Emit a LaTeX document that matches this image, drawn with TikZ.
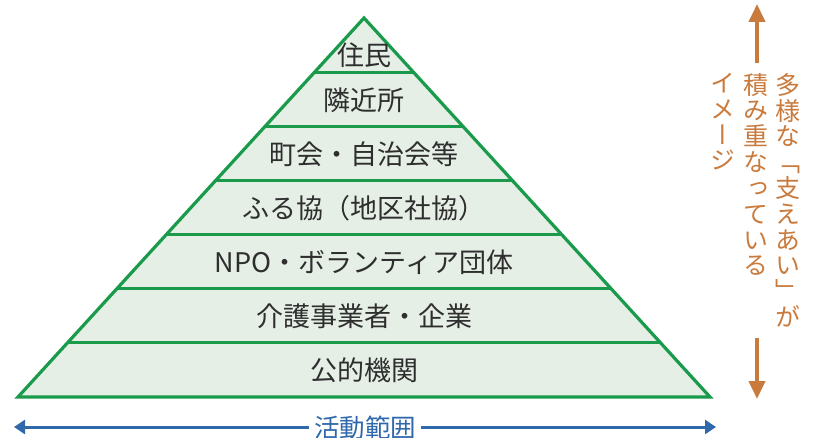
\documentclass[tikz,border=0pt]{standalone}
\usepackage{fontspec}
\newfontfamily\jp{Noto Sans CJK JP}
\newfontfamily\jpv[RawFeature=+vert]{Noto Sans CJK JP}
\usetikzlibrary{arrows.meta}
\definecolor{pgreen}{HTML}{1A9A4B}
\definecolor{pfill}{HTML}{E5EFE6}
\definecolor{porange}{HTML}{C97B3D}
\definecolor{pblue}{HTML}{2F69AC}
\definecolor{ptext}{HTML}{2E2E2E}
\begin{document}
\begin{tikzpicture}[x=1pt,y=-1pt,
  layer/.style={text=ptext,font=\jp\fontsize{27}{30}\selectfont,inner sep=0pt},
  vtext/.style={text=porange,font=\jpv\fontsize{25}{25.8}\selectfont,align=center,inner sep=0pt,anchor=north},
  oarrow/.style={draw=porange,line width=4pt,-{Triangle[width=16pt,length=18pt]}},
  barrow/.style={draw=pblue,line width=3pt,-{Triangle[width=14pt,length=11pt]}},
  sepline/.style={draw=pgreen,line width=3.2pt}]
\useasboundingbox (0,0) rectangle (821,438);
% pyramid
\coordinate (apex) at (364,18);
\coordinate (bl) at (18,397);
\coordinate (br) at (710,397);
\fill[pfill] (apex) -- (br) -- (bl) -- cycle;
\foreach \k in {1,...,6}{
  \pgfmathsetmacro{\yy}{18+54.14*\k}
  \pgfmathsetmacro{\hw}{0.91293*(\yy-18)}
  \draw[sepline] ({364-\hw},\yy) -- ({364+\hw},\yy);
}
\draw[pgreen,line width=3.2pt,line join=miter] (apex) -- (br) -- (bl) -- cycle;
% layer labels
\node[layer] (l1) at (364,55) {住民};
\node[layer] (l2) at (364,100) {隣近所};
\node[layer] (l3) at (364,154) {町会・自治会等};
\node[layer] (l4) at (364,208) {ふる協（地区社協）};
\node[layer] (l5) at (364,262) {NPO・ボランティア団体};
\node[layer] (l6) at (364,316) {介護事業者・企業};
\node[layer] (l7) at (364,370) {公的機関};
% bottom arrow
\node[text=pblue,font=\jp\fontsize{25.5}{30}\selectfont,fill=white,inner sep=5pt] (range) at (365,428) {活動範囲};
\coordinate (aL) at (14,427);
\coordinate (aR) at (716,427);
\draw[barrow] (range.west |- aL) -- (aL);
\draw[barrow] (range.east |- aR) -- (aR);
% vertical texts
\node[vtext] (c1) at (788,73) {多\\様\\な\\「\\支\\え\\あ\\い\\」\\が};
\node[vtext] (c2) at (756,73) {積\\み\\重\\な\\っ\\て\\い\\る};
\node[vtext] (c3) at (723,73) {イ\\メ\\ー\\ジ};
% orange arrows
\coordinate (oS1) at (757,63);
\coordinate (oT) at (757,4);
\coordinate (oS2) at (757,338);
\coordinate (oB) at (757,399);
\draw[oarrow] (oS1) -- (oT);
\draw[oarrow] (oS2) -- (oB);
\end{tikzpicture}
\end{document}
